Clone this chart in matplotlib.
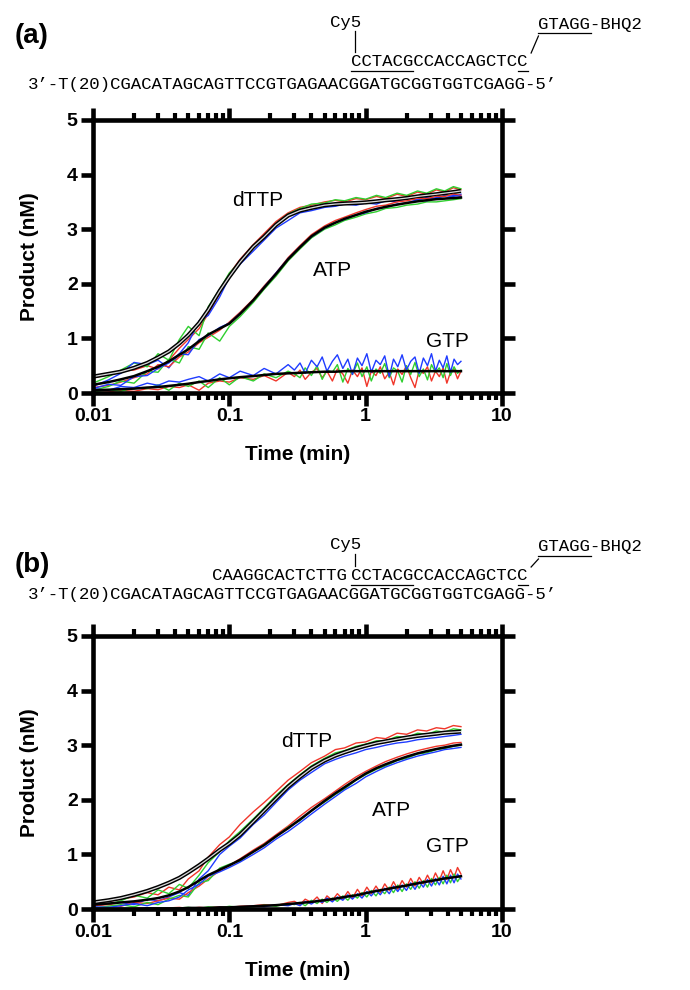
import matplotlib
matplotlib.use("Agg")
import matplotlib.pyplot as plt
from matplotlib.ticker import LogLocator, NullFormatter

plt.rcParams['font.family'] = ['Liberation Sans', 'DejaVu Sans']

# time points (min) for the dTTP / ATP traces and all fits
T = [0.010, 0.013, 0.016, 0.020, 0.025, 0.030, 0.036, 0.043, 0.050, 0.060,
     0.070, 0.085, 0.10, 0.12, 0.15, 0.18, 0.22, 0.27, 0.33, 0.40,
     0.50, 0.60, 0.70, 0.85, 1.0, 1.2, 1.4, 1.7, 2.0, 2.4,
     2.8, 3.3, 3.8, 4.4, 5.0]

# denser time points for the noisy GTP traces
T_GTP = [0.010, 0.013, 0.016, 0.020, 0.025, 0.030, 0.036, 0.043, 0.050, 0.060,
         0.070, 0.085, 0.10, 0.12, 0.15, 0.18, 0.22, 0.27,
         0.30, 0.33, 0.36, 0.40, 0.44, 0.48, 0.52, 0.57, 0.62, 0.68,
         0.74, 0.80, 0.87, 0.94, 1.02, 1.10, 1.19, 1.28, 1.38, 1.49,
         1.60, 1.72, 1.85, 1.99, 2.14, 2.30, 2.47, 2.65, 2.84, 3.04,
         3.25, 3.47, 3.70, 3.94, 4.19, 4.45, 4.72, 5.00]

# ---- panel (a) ----
dttp_fit_a = [0.30, 0.35, 0.39, 0.46, 0.55, 0.65, 0.76, 0.91, 1.06, 1.28, 1.52, 1.87, 2.13, 2.40, 2.68, 2.86, 3.08, 3.25,
              3.34, 3.39, 3.44, 3.46, 3.47, 3.48, 3.49, 3.51, 3.53, 3.55, 3.57, 3.60, 3.62, 3.64, 3.66, 3.68, 3.70]
dttp_red_a = [0.28, 0.33, 0.40, 0.42, 0.50, 0.44, 0.60, 0.82, 0.98, 1.18, 1.45, 1.82, 2.18, 2.45, 2.72, 2.92, 3.14, 3.30,
              3.40, 3.44, 3.50, 3.53, 3.50, 3.56, 3.54, 3.60, 3.56, 3.64, 3.60, 3.68, 3.64, 3.72, 3.68, 3.76, 3.72]
dttp_green_a = [0.18, 0.30, 0.42, 0.55, 0.48, 0.72, 0.60, 0.98, 1.22, 1.05, 1.58, 1.90, 2.20, 2.40, 2.70, 2.88, 3.10, 3.28,
                3.38, 3.46, 3.48, 3.54, 3.52, 3.58, 3.55, 3.62, 3.58, 3.66, 3.62, 3.70, 3.66, 3.74, 3.70, 3.78, 3.74]
dttp_blue_a = [0.12, 0.24, 0.36, 0.56, 0.52, 0.60, 0.46, 0.72, 0.92, 1.32, 1.42, 1.76, 2.12, 2.36, 2.60, 2.80, 3.02, 3.16,
               3.30, 3.34, 3.40, 3.42, 3.46, 3.44, 3.48, 3.46, 3.52, 3.50, 3.56, 3.54, 3.58, 3.56, 3.62, 3.60, 3.64]

atp_fit_a = [0.15, 0.20, 0.25, 0.31, 0.40, 0.48, 0.58, 0.70, 0.80, 0.95, 1.07, 1.18, 1.27, 1.45, 1.70, 1.93, 2.18, 2.45,
             2.67, 2.87, 3.03, 3.12, 3.19, 3.26, 3.32, 3.37, 3.41, 3.45, 3.48, 3.51, 3.53, 3.55, 3.56, 3.57, 3.58]
atp_red_a = [0.10, 0.14, 0.20, 0.28, 0.35, 0.52, 0.48, 0.66, 0.75, 0.92, 1.02, 1.15, 1.30, 1.48, 1.72, 1.96, 2.20, 2.48,
             2.70, 2.90, 3.06, 3.16, 3.22, 3.30, 3.36, 3.42, 3.44, 3.50, 3.52, 3.56, 3.56, 3.60, 3.60, 3.64, 3.62]
atp_green_a = [0.05, 0.12, 0.22, 0.18, 0.40, 0.38, 0.62, 0.55, 0.85, 0.80, 1.10, 0.95, 1.22, 1.40, 1.66, 1.90, 2.14, 2.42,
               2.64, 2.84, 3.00, 3.08, 3.16, 3.22, 3.28, 3.32, 3.38, 3.40, 3.44, 3.46, 3.50, 3.50, 3.52, 3.54, 3.56]
atp_blue_a = [0.08, 0.16, 0.14, 0.30, 0.32, 0.45, 0.55, 0.72, 0.70, 0.98, 1.05, 1.20, 1.28, 1.46, 1.70, 1.94, 2.20, 2.46,
              2.68, 2.86, 3.02, 3.12, 3.18, 3.26, 3.30, 3.38, 3.40, 3.46, 3.48, 3.54, 3.52, 3.58, 3.56, 3.62, 3.60]

gtp_fit_a = [0.05, 0.06, 0.07, 0.08, 0.10, 0.11, 0.13, 0.15, 0.17, 0.20, 0.22, 0.25, 0.27, 0.29, 0.31, 0.33, 0.35, 0.36,
             0.37, 0.38, 0.39, 0.39, 0.40, 0.40, 0.40, 0.40, 0.40, 0.40, 0.40, 0.40, 0.40, 0.40, 0.40, 0.40, 0.40]
gtp_red_a = [0.00, 0.02, 0.05, 0.03, 0.08, 0.06, 0.12, 0.10, 0.15, 0.05, 0.18, 0.22, 0.20, 0.28, 0.25, 0.32, 0.22, 0.38,
             0.30, 0.42, 0.25, 0.38, 0.45, 0.28, 0.40, 0.22, 0.44, 0.35, 0.18, 0.42, 0.30, 0.46, 0.12, 0.40, 0.32, 0.48,
             0.26, 0.38, 0.15, 0.44, 0.34, 0.50, 0.28, 0.10, 0.42, 0.36, 0.48, 0.22, 0.40, 0.30, 0.46, 0.18, 0.38, 0.44,
             0.26, 0.40]
gtp_green_a = [0.02, 0.06, 0.03, 0.10, 0.08, 0.15, 0.05, 0.18, 0.12, 0.22, 0.10, 0.28, 0.15, 0.30, 0.22, 0.35, 0.28, 0.40,
               0.35, 0.28, 0.46, 0.32, 0.50, 0.25, 0.42, 0.38, 0.52, 0.20, 0.45, 0.34, 0.55, 0.30, 0.48, 0.22, 0.44, 0.36,
               0.54, 0.28, 0.46, 0.40, 0.20, 0.50, 0.34, 0.56, 0.30, 0.44, 0.24, 0.52, 0.38, 0.46, 0.28, 0.54, 0.32, 0.48,
               0.36, 0.42]
gtp_blue_a = [0.08, 0.05, 0.12, 0.10, 0.18, 0.14, 0.22, 0.20, 0.25, 0.30, 0.22, 0.35, 0.28, 0.40, 0.32, 0.45, 0.35, 0.52,
              0.42, 0.55, 0.36, 0.60, 0.48, 0.66, 0.40, 0.58, 0.70, 0.45, 0.62, 0.34, 0.64, 0.50, 0.72, 0.38, 0.60, 0.52,
              0.68, 0.30, 0.62, 0.48, 0.70, 0.42, 0.58, 0.66, 0.36, 0.64, 0.50, 0.72, 0.40, 0.60, 0.46, 0.68, 0.38, 0.62,
              0.52, 0.58]

# ---- panel (b) ----
dttp_fit_b = [0.12, 0.16, 0.20, 0.26, 0.33, 0.40, 0.48, 0.57, 0.67, 0.80, 0.92, 1.08, 1.20, 1.36, 1.60, 1.80, 2.02, 2.24,
              2.42, 2.58, 2.72, 2.81, 2.87, 2.94, 2.99, 3.04, 3.07, 3.11, 3.14, 3.17, 3.19, 3.21, 3.23, 3.24, 3.25]
dttp_red_b = [0.10, 0.14, 0.18, 0.22, 0.30, 0.26, 0.40, 0.35, 0.55, 0.70, 0.95, 1.18, 1.32, 1.55, 1.78, 1.95, 2.15, 2.36,
              2.52, 2.68, 2.80, 2.92, 2.95, 3.04, 3.06, 3.14, 3.12, 3.22, 3.20, 3.28, 3.26, 3.32, 3.30, 3.36, 3.34]
dttp_green_b = [0.12, 0.08, 0.15, 0.25, 0.20, 0.35, 0.28, 0.45, 0.38, 0.62, 0.85, 1.05, 1.25, 1.42, 1.65, 1.85, 2.08, 2.28,
                2.46, 2.62, 2.76, 2.86, 2.90, 2.98, 3.02, 3.08, 3.08, 3.16, 3.14, 3.22, 3.20, 3.26, 3.24, 3.30, 3.28]
dttp_blue_b = [0.05, 0.10, 0.12, 0.08, 0.18, 0.15, 0.22, 0.30, 0.25, 0.55, 0.70, 1.00, 1.15, 1.30, 1.55, 1.72, 1.95, 2.18,
               2.36, 2.50, 2.66, 2.74, 2.80, 2.86, 2.92, 2.96, 3.00, 3.04, 3.06, 3.10, 3.12, 3.14, 3.16, 3.18, 3.20]

atp_fit_b = [0.08, 0.10, 0.12, 0.14, 0.17, 0.20, 0.25, 0.32, 0.40, 0.52, 0.62, 0.72, 0.80, 0.90, 1.05, 1.17, 1.33, 1.48,
             1.64, 1.80, 1.98, 2.12, 2.23, 2.37, 2.48, 2.58, 2.65, 2.73, 2.79, 2.85, 2.89, 2.93, 2.96, 2.99, 3.01]
atp_red_b = [0.06, 0.08, 0.05, 0.12, 0.10, 0.15, 0.20, 0.18, 0.30, 0.42, 0.55, 0.70, 0.80, 0.92, 1.08, 1.20, 1.36, 1.52,
             1.70, 1.86, 2.02, 2.16, 2.28, 2.42, 2.52, 2.62, 2.70, 2.78, 2.84, 2.90, 2.94, 2.98, 3.00, 3.04, 3.05]
atp_green_b = [0.02, 0.05, 0.08, 0.04, 0.12, 0.08, 0.18, 0.25, 0.22, 0.48, 0.52, 0.75, 0.82, 0.88, 1.05, 1.18, 1.32, 1.50,
               1.62, 1.80, 1.96, 2.10, 2.20, 2.36, 2.46, 2.56, 2.62, 2.72, 2.76, 2.84, 2.86, 2.92, 2.94, 2.98, 3.00]
atp_blue_b = [0.04, 0.03, 0.06, 0.10, 0.06, 0.12, 0.15, 0.22, 0.35, 0.45, 0.60, 0.68, 0.76, 0.86, 1.00, 1.12, 1.28, 1.42,
              1.58, 1.74, 1.92, 2.06, 2.18, 2.30, 2.42, 2.52, 2.60, 2.68, 2.74, 2.80, 2.84, 2.88, 2.92, 2.94, 2.96]

gtp_fit_b = [0.00, 0.00, 0.00, 0.00, 0.01, 0.01, 0.01, 0.01, 0.02, 0.02, 0.02, 0.03, 0.03, 0.04, 0.05, 0.06, 0.07, 0.09,
             0.11, 0.13, 0.16, 0.19, 0.22, 0.25, 0.29, 0.33, 0.36, 0.40, 0.43, 0.47, 0.50, 0.53, 0.56, 0.58, 0.60]
gtp_red_b = [0.00, 0.01, 0.00, 0.02, 0.01, 0.00, 0.02, 0.03, 0.01, 0.03, 0.02, 0.04, 0.03, 0.05, 0.06, 0.08, 0.06, 0.12,
             0.14, 0.08, 0.18, 0.12, 0.22, 0.10, 0.24, 0.16, 0.28, 0.18, 0.32, 0.20, 0.36, 0.24, 0.40, 0.28, 0.42, 0.30,
             0.46, 0.34, 0.50, 0.36, 0.52, 0.40, 0.56, 0.42, 0.58, 0.46, 0.62, 0.48, 0.66, 0.52, 0.70, 0.54, 0.72, 0.58,
             0.76, 0.64]
gtp_green_b = [0.01, 0.00, 0.02, 0.01, 0.00, 0.02, 0.01, 0.02, 0.03, 0.01, 0.04, 0.02, 0.05, 0.03, 0.04, 0.07, 0.05, 0.10,
               0.08, 0.12, 0.06, 0.16, 0.10, 0.18, 0.12, 0.20, 0.14, 0.24, 0.16, 0.26, 0.20, 0.30, 0.22, 0.34, 0.24, 0.36,
               0.28, 0.40, 0.30, 0.44, 0.32, 0.46, 0.36, 0.50, 0.38, 0.52, 0.40, 0.56, 0.44, 0.58, 0.46, 0.62, 0.48, 0.64,
               0.50, 0.60]
gtp_blue_b = [0.00, 0.02, 0.01, 0.00, 0.02, 0.01, 0.00, 0.01, 0.02, 0.02, 0.01, 0.03, 0.02, 0.04, 0.05, 0.04, 0.08, 0.06,
              0.10, 0.06, 0.14, 0.09, 0.16, 0.12, 0.20, 0.13, 0.22, 0.16, 0.26, 0.18, 0.28, 0.20, 0.32, 0.24, 0.35, 0.26,
              0.38, 0.28, 0.42, 0.32, 0.44, 0.34, 0.48, 0.36, 0.50, 0.40, 0.54, 0.42, 0.56, 0.44, 0.60, 0.46, 0.62, 0.48,
              0.64, 0.55]

x_ticks = [0.01, 0.1, 1, 10]
x_ticklabels = ['0.01', '0.1', '1', '10']
y_ticks = [0, 1, 2, 3, 4, 5]

BOTTOM_STRAND = "3\u2019-T(20)CGACATAGCAGTTCCGTGAGAACGGATGCGGTGGTCGAGG-5\u2019"
PROBE = "CCTACGCCACCAGCTCC"
PRIMER_B = "CAAGGCACTCTTG"

RED, GREEN, BLUE = "#f0362a", "#2fcf2f", "#1f3cff"

W, H = 690, 990
fig = plt.figure(figsize=(W / 100, H / 100), dpi=100)


def make_axes(top_px):
    ax = fig.add_axes([93 / W, 1 - (top_px + 273) / H, 409 / W, 273 / H])
    ax.set_xscale('log')
    ax.set_xlim(0.01, 10)
    ax.set_ylim(0, 5)
    for s in ax.spines.values():
        s.set_linewidth(3.3)
    ax.set_xticks(x_ticks)
    ax.set_xticklabels(x_ticklabels)
    ax.xaxis.set_minor_locator(LogLocator(base=10, subs=range(2, 10)))
    ax.xaxis.set_minor_formatter(NullFormatter())
    ax.set_yticks(y_ticks)
    ax.tick_params(which='major', direction='out', length=9, width=3.3,
                   top=True, right=True, labelsize=14, pad=2)
    ax.tick_params(which='minor', direction='out', length=5, width=3, top=True)
    for lab in ax.get_xticklabels() + ax.get_yticklabels():
        lab.set_fontweight('bold')
    ax.set_xlabel('Time (min)', fontsize=15, fontweight='bold', labelpad=14)
    ax.set_ylabel('Product (nM)', fontsize=15, fontweight='bold', labelpad=20)
    return ax


def draw_curves(ax, groups):
    for t, fit, red, green, blue, double in groups:
        ax.plot(t, red, color=RED, lw=1.0)
        ax.plot(t, green, color=GREEN, lw=1.0)
        ax.plot(t, blue, color=BLUE, lw=1.0)
        if double:
            ax.plot(T, fit, color='black', lw=3.0, solid_capstyle='butt')
            ax.plot(T, fit, color='#d8d8d8', lw=0.9)
        else:
            ax.plot(T, fit, color='black', lw=1.8)


lab_kw = dict(fontsize=15, va='center', ha='left')

ax_a = make_axes(120)
draw_curves(ax_a, [
    (T, dttp_fit_a, dttp_red_a, dttp_green_a, dttp_blue_a, True),
    (T, atp_fit_a, atp_red_a, atp_green_a, atp_blue_a, False),
    (T_GTP, gtp_fit_a, gtp_red_a, gtp_green_a, gtp_blue_a, False),
])
ax_a.text(0.105, 3.53, 'dTTP', **lab_kw)
ax_a.text(0.41, 2.25, 'ATP', **lab_kw)
ax_a.text(2.75, 0.95, 'GTP', **lab_kw)

ax_b = make_axes(636)
draw_curves(ax_b, [
    (T, dttp_fit_b, dttp_red_b, dttp_green_b, dttp_blue_b, True),
    (T, atp_fit_b, atp_red_b, atp_green_b, atp_blue_b, False),
    (T_GTP, gtp_fit_b, gtp_red_b, gtp_green_b, gtp_blue_b, False),
])
ax_b.text(0.24, 3.06, 'dTTP', **lab_kw)
ax_b.text(1.12, 1.8, 'ATP', **lab_kw)
ax_b.text(2.75, 1.15, 'GTP', **lab_kw)

# overlay in pixel coordinates for the sequence drawings
ov = fig.add_axes([0, 0, 1, 1], facecolor='none')
ov.set_xlim(0, W)
ov.set_ylim(H, 0)
ov.axis('off')

FS = 12.5
CW = 0.6 * FS * 100 / 72   # monospace advance in px
X0 = 28
mono = dict(family='Liberation Mono', fontsize=FS, va='center', ha='left')


def cx(i):
    return X0 + i * CW


def draw_sequence(label, y_lab, y_cy5, y_top, y_bot, primer):
    ov.text(15, y_lab, label, fontsize=20, fontweight='bold', va='center')
    ov.text(cx(0), y_bot, BOTTOM_STRAND, **mono)
    ov.text(cx(31), y_top, PROBE, **mono)
    if primer:
        ov.text(cx(31) - 0.35 * CW, y_top, primer, **dict(mono, ha='right'))
    yu = y_top + 9
    ov.plot([cx(31), cx(37)], [yu, yu], color='black', lw=0.9)
    ov.plot([cx(47), cx(48)], [yu, yu], color='black', lw=0.9)
    # Cy5 label with its stalk
    ov.text(cx(29.0), y_cy5, 'Cy5', **mono)
    ov.plot([cx(31.4), cx(31.4)], [y_cy5 + 9, y_top - 10], color='black', lw=0.9)
    # quencher label with slash
    ov.text(cx(49), y_cy5 + 2, 'GTAGG-BHQ2', **mono)
    ov.plot([cx(49), cx(54)], [y_cy5 + 11, y_cy5 + 11], color='black', lw=0.9)
    ov.plot([cx(48.3), cx(49.0)], [y_top - 9, y_cy5 + 14], color='black', lw=0.9)


draw_sequence('(a)', 36, 22, 62, 85, None)
draw_sequence('(b)', 565, 545, 576, 594, PRIMER_B)

fig.savefig('out.png', dpi=100)
